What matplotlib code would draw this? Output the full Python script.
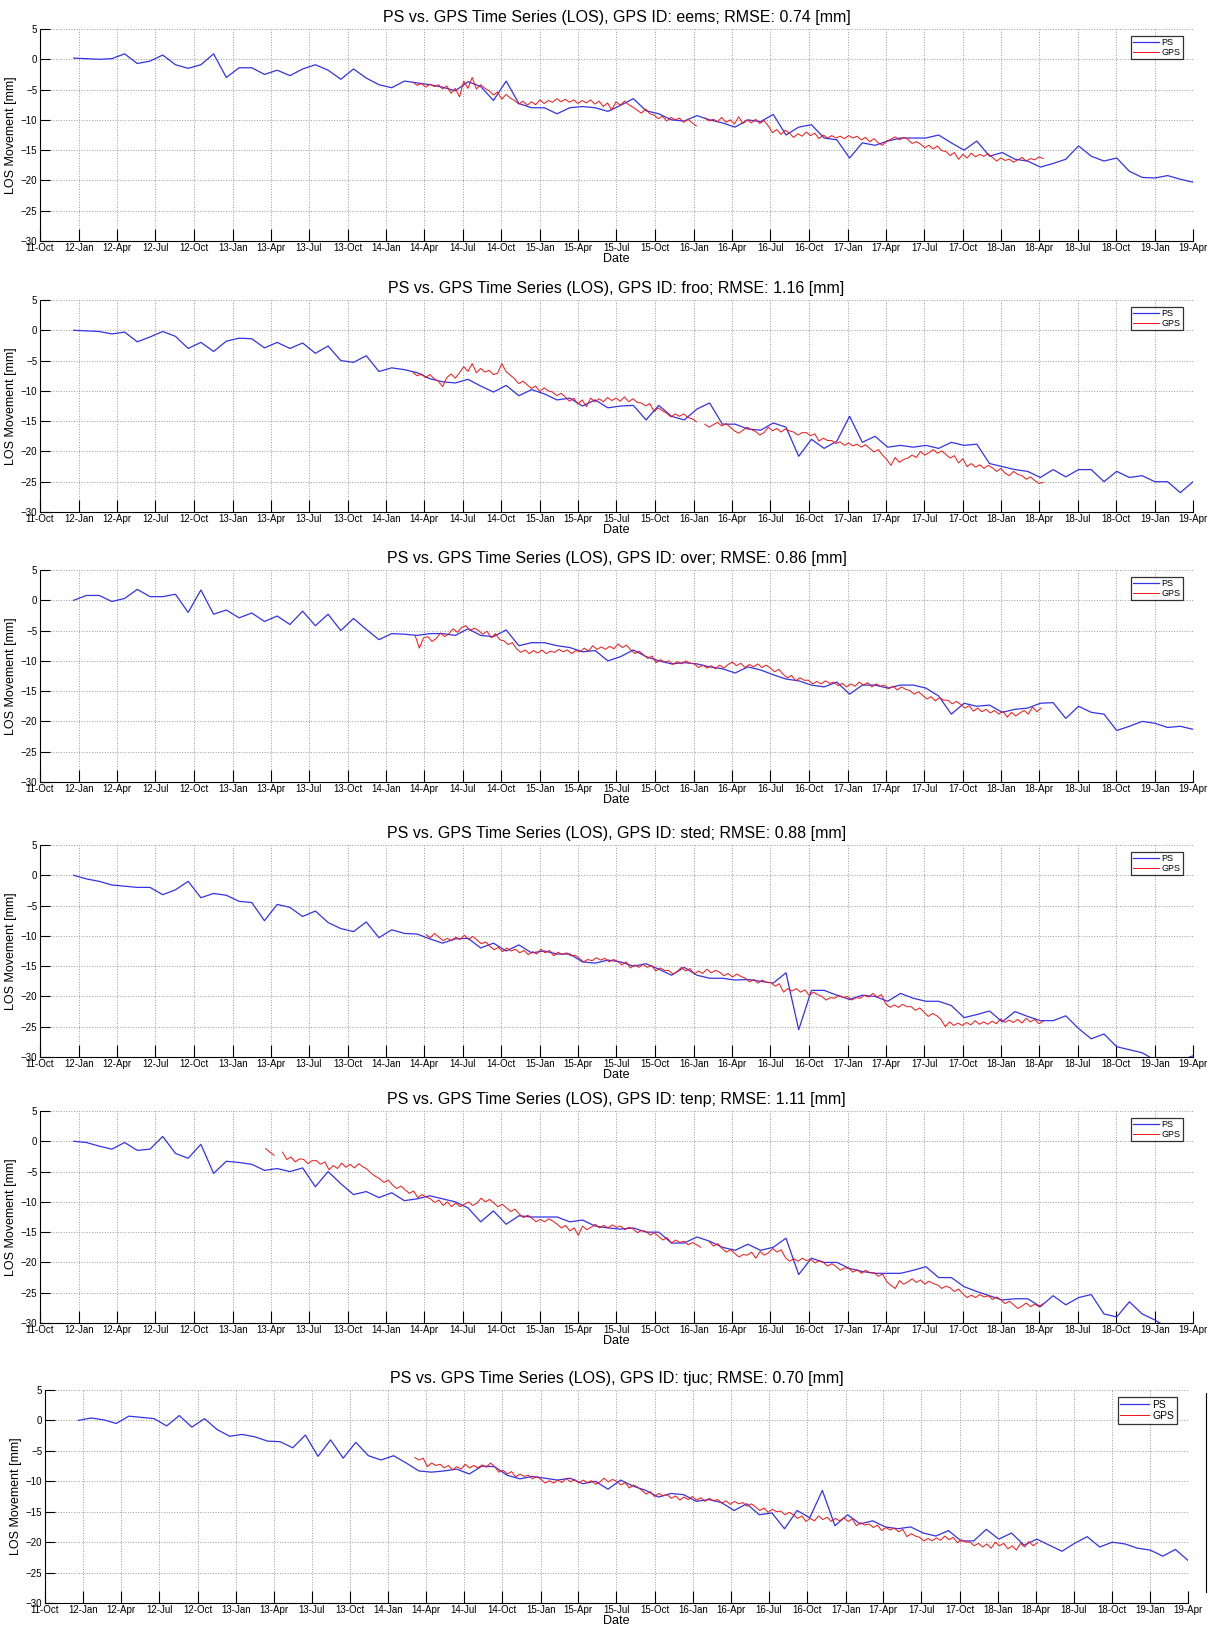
import numpy as np
import pandas as pd
import matplotlib
matplotlib.use('Agg')
import matplotlib.pyplot as plt
import matplotlib.dates as mdates
from matplotlib.lines import Line2D

plt.rcParams['font.family'] = ['Liberation Sans', 'DejaVu Sans']

nan = np.nan

# station ids and rmse from the titles
stations = ['eems', 'froo', 'over', 'sted', 'tenp', 'tjuc']
rmse = [0.74, 1.16, 0.86, 0.88, 1.11, 0.70]

# PS series: one value per month, Dec 2011 .. Apr 2019
ps_start, ps_end = '2011-12-20', '2019-04-01'

ps_eems = [0.2,
    0.1, 0.0, 0.1, 0.9, -0.7, -0.3, 0.7, -0.9, -1.5, -0.9, 0.9, -3.0,
    -1.4, -1.4, -2.5, -1.8, -2.7, -1.6, -0.9, -1.8, -3.3, -1.6, -3.1, -4.2,
    -4.7, -3.6, -3.9, -4.2, -4.6, -5.2, -3.7, -4.5, -6.8, -3.6, -7.3, -8.0,
    -8.0, -9.0, -8.0, -7.8, -8.0, -8.6, -7.6, -6.5, -8.5, -9.0, -10.0, -10.2,
    -9.3, -10.0, -10.5, -11.2, -10.0, -10.3, -9.1, -12.5, -11.2, -10.8, -13.0, -13.3,
    -16.3, -13.8, -14.2, -13.5, -13.0, -13.0, -13.0, -12.5, -13.8, -15.0, -13.5, -16.0,
    -15.4, -16.5, -16.8, -17.8, -17.2, -16.5, -14.3, -16.0, -16.8, -16.3, -18.5, -19.5,
    -19.6, -19.2, -19.8, -20.3]

ps_froo = [0.0,
    -0.1, -0.2, -0.6, -0.3, -1.9, -1.1, -0.2, -1.0, -3.0, -2.0, -3.5, -1.8,
    -1.3, -1.4, -2.9, -2.0, -3.0, -2.1, -3.8, -2.6, -5.0, -5.3, -4.2, -6.8,
    -6.2, -6.5, -7.0, -8.0, -8.5, -8.7, -8.1, -9.2, -10.2, -9.1, -10.8, -9.8,
    -10.5, -11.5, -11.2, -12.5, -11.5, -12.8, -12.5, -12.4, -14.8, -12.4, -14.2, -14.8,
    -13.0, -12.0, -15.5, -15.5, -16.3, -16.5, -15.3, -16.0, -20.8, -18.0, -19.5, -18.3,
    -14.2, -18.5, -17.5, -19.3, -19.0, -19.3, -19.0, -19.5, -18.5, -19.0, -18.8, -22.0,
    -22.5, -23.0, -23.3, -24.3, -23.0, -24.2, -23.0, -23.0, -25.0, -23.3, -24.3, -24.0,
    -25.0, -25.0, -26.8, -25.0]

ps_over = [0.0,
    0.8, 0.8, -0.2, 0.3, 1.8, 0.6, 0.6, 1.0, -2.0, 1.7, -2.3, -1.6,
    -2.9, -2.1, -3.5, -2.6, -4.0, -1.8, -4.2, -2.3, -5.0, -3.0, -4.8, -6.5,
    -5.5, -5.6, -5.8, -5.5, -5.5, -5.8, -4.7, -5.8, -6.0, -4.9, -7.5, -7.0,
    -7.0, -7.5, -7.8, -8.5, -8.3, -10.0, -9.3, -8.2, -9.3, -10.0, -10.5, -10.3,
    -10.5, -11.0, -11.3, -12.0, -11.0, -11.5, -12.3, -13.0, -13.3, -14.0, -14.3, -13.5,
    -15.5, -14.0, -14.0, -14.5, -14.0, -14.0, -14.5, -15.8, -18.8, -17.0, -17.5, -17.3,
    -18.5, -18.0, -17.8, -17.0, -16.9, -19.5, -17.5, -18.5, -18.8, -21.5, -20.8, -20.0,
    -20.3, -21.0, -20.8, -21.3]

ps_sted = [0.0,
    -0.6, -1.0, -1.6, -1.8, -2.0, -2.0, -3.2, -2.4, -1.0, -3.7, -3.0, -3.3,
    -4.3, -4.5, -7.5, -4.8, -5.3, -6.8, -5.9, -7.8, -8.8, -9.3, -7.7, -10.3,
    -9.0, -9.6, -9.7, -10.5, -11.2, -10.5, -10.4, -12.0, -11.2, -12.5, -11.5, -12.8,
    -12.5, -13.0, -13.0, -14.3, -14.5, -14.0, -14.3, -15.0, -14.6, -15.5, -16.5, -15.2,
    -16.5, -17.0, -17.0, -17.3, -17.2, -17.5, -17.8, -16.1, -25.5, -19.0, -19.0, -19.8,
    -20.5, -19.8, -20.0, -20.8, -19.5, -20.3, -20.8, -20.8, -21.5, -23.5, -23.0, -22.4,
    -24.2, -22.5, -23.3, -24.0, -24.0, -23.2, -25.3, -27.0, -26.2, -28.3, -28.8, -29.3,
    -30.5, -31.0, -30.6, -29.8]

ps_tenp = [0.0,
    -0.2, -0.8, -1.3, -0.2, -1.5, -1.3, 0.8, -2.0, -2.8, -0.5, -5.3, -3.3,
    -3.5, -3.8, -4.8, -4.5, -5.0, -4.4, -7.5, -5.0, -7.0, -8.8, -8.3, -9.3,
    -8.5, -9.8, -9.5, -9.0, -9.5, -10.0, -11.0, -13.3, -11.5, -13.7, -12.3, -12.5,
    -12.5, -12.5, -13.3, -13.0, -14.0, -14.3, -14.5, -14.3, -15.0, -15.0, -16.8, -16.8,
    -15.8, -16.5, -17.5, -18.0, -17.0, -18.0, -17.5, -16.0, -22.0, -19.3, -20.0, -20.0,
    -21.0, -21.5, -21.8, -21.8, -21.8, -21.3, -20.7, -22.5, -22.5, -24.0, -24.8, -25.5,
    -26.2, -26.0, -26.0, -27.3, -25.5, -27.0, -25.8, -25.3, -28.5, -29.0, -26.5, -28.5,
    -29.5, -30.8, -31.5, -32.0]

ps_tjuc = [0.0,
    0.4, 0.1, -0.5, 0.7, 0.5, 0.3, -0.9, 0.8, -1.1, 0.3, -1.5, -2.6,
    -2.3, -2.7, -3.4, -3.5, -4.5, -2.4, -5.9, -3.2, -6.2, -3.6, -5.8, -6.5,
    -5.8, -7.0, -8.3, -8.5, -8.3, -8.0, -8.8, -7.5, -7.6, -9.0, -9.6, -9.2,
    -9.5, -9.8, -9.5, -10.4, -10.0, -11.3, -9.8, -10.8, -11.5, -12.6, -12.0, -12.2,
    -13.3, -13.0, -13.5, -14.8, -13.7, -15.5, -15.2, -17.8, -14.8, -16.0, -11.5, -17.3,
    -15.5, -17.0, -16.5, -17.5, -17.8, -17.5, -18.5, -19.0, -18.1, -19.8, -19.8, -17.9,
    -19.5, -18.5, -20.5, -19.5, -20.5, -21.5, -20.2, -19.1, -20.8, -20.0, -20.3, -21.0,
    -21.3, -22.3, -21.2, -23.0]

# GPS series: three values per month
gps_eems_start, gps_eems_end = '2014-03-05', '2018-04-10'
gps_eems = [
    -3.8, -4.3, -4.0, -4.6, -4.1, -4.5, -4.2, -4.9, -4.4, -5.6, -4.8, -6.2,
    -3.6, -4.8, -3.0, -4.9, -4.2, -4.8, -5.2, -5.9, -5.4, -6.6, -5.8, -6.4,
    -6.8, -7.4, -6.9, -7.6, -7.0, -7.5, -6.7, -7.3, -6.8, -7.1, -6.5, -7.0,
    -6.6, -7.1, -6.7, -7.3, -6.8, -7.2, -6.7, -7.4, -6.9, -7.8, -7.2, -8.4,
    -7.0, -7.6, -6.9, -7.5, -7.9, -8.4, -8.9, -8.2, -9.0, -9.2, -9.8, -9.4,
    -10.2, -9.6, -10.0, -9.7, -10.4, -9.9, -10.5, -11.0, nan, -9.7, -10.2, -9.9,
    -10.3, -9.6, -10.4, -10.0, -10.7, -9.5, -10.6, -10.0, -10.5, -9.9, -10.6, -10.1,
    -11.0, -12.1, -11.6, -12.4, -11.7, -12.2, -12.9, -12.3, -12.7, -12.0, -12.6, -12.2,
    -13.1, -12.5, -13.0, -12.6, -13.0, -12.7, -13.1, -12.6, -13.0, -12.7, -13.3, -12.9,
    -13.6, -13.1, -13.8, -14.2, -13.5, -13.2, -12.8, -13.3, -12.9, -13.2, -13.9, -13.6,
    -14.0, -14.6, -14.2, -14.8, -14.3, -15.1, -15.2, -15.9, -15.4, -16.5, -15.7, -16.3,
    -15.5, -16.1, -15.7, -16.0, -15.6, -16.2, -16.8, -16.3, -16.7, -16.5, -17.0, -16.6,
    -16.2, -16.8, -16.4, -16.6, -16.1, -16.4]

gps_froo_start, gps_froo_end = '2014-03-05', '2018-04-10'
gps_froo = [
    -7.0, -7.5, -7.2, -7.8, -7.3, -8.0, -8.4, -9.3, -7.8, -7.2, -7.9, -7.0,
    -6.0, -6.8, -5.5, -7.0, -6.3, -6.9, -6.6, -7.3, -7.1, -5.5, -6.8, -7.4,
    -8.0, -8.8, -8.4, -9.0, -9.6, -9.2, -10.1, -9.5, -10.0, -10.2, -10.8, -10.4,
    -11.0, -11.7, -11.2, -12.2, -11.5, -12.6, -11.2, -11.8, -11.3, -11.8, -11.1, -11.6,
    -11.2, -11.7, -11.0, -11.8, -11.3, -11.9, -12.0, -12.5, -12.1, -13.4, -12.8, -13.3,
    -13.7, -14.3, -13.8, -14.2, -13.8, -14.4, -14.6, -15.1, nan, -15.5, -16.0, -15.6,
    -15.2, -15.8, -15.4, -16.0, -16.6, -17.0, -16.5, -16.0, -16.4, -16.7, -17.3, -16.9,
    -16.0, -16.6, -16.2, -16.8, -16.3, -16.6, -16.8, -17.3, -16.9, -16.9, -17.4, -17.1,
    -18.3, -17.8, -18.2, -18.2, -18.7, -18.4, -19.0, -18.6, -19.1, -18.8, -19.3, -18.9,
    -19.5, -20.1, -19.7, -20.6, -21.3, -22.3, -21.0, -21.8, -21.3, -21.1, -20.6, -21.0,
    -20.0, -20.6, -20.2, -19.7, -20.3, -19.9, -20.5, -21.1, -20.7, -21.9, -21.2, -22.5,
    -22.0, -22.6, -22.2, -22.8, -22.3, -22.7, -23.3, -22.8, -23.6, -24.0, -23.3, -23.8,
    -24.0, -24.6, -24.2, -24.8, -25.3, -25.1]

gps_over_start, gps_over_end = '2014-03-10', '2018-04-05'
gps_over = [
    -5.8, -7.9, -6.2, -6.0, -6.8, -6.3, -5.4, -6.0, -5.5, -4.7, -5.3, -4.5,
    -4.2, -5.0, -4.6, -5.0, -5.6, -5.1, -6.2, -5.5, -6.5, -6.7, -7.3, -7.0,
    -8.0, -8.6, -8.2, -8.8, -8.3, -8.7, -8.2, -8.8, -8.4, -8.6, -8.1, -8.5,
    -8.2, -8.8, -8.3, -8.5, -7.9, -8.4, -7.5, -8.1, -7.7, -8.1, -7.6, -8.0,
    -7.2, -7.8, -7.4, -8.2, -8.8, -8.4, -9.0, -9.6, -9.2, -10.3, -9.8, -10.2,
    -10.0, -10.6, -10.1, -10.5, -10.0, -10.4, -10.5, -11.1, -10.7, -11.2, -10.8, -11.3,
    -10.7, -11.2, -10.6, -10.2, -10.8, -10.4, -11.1, -10.6, -11.0, -10.5, -11.1, -10.7,
    -11.2, -11.8, -11.4, -12.2, -12.8, -12.4, -13.3, -12.8, -13.2, -13.2, -13.8, -13.4,
    -13.8, -13.3, -13.7, -13.5, -14.1, -13.7, -14.3, -13.8, -14.2, -13.5, -14.0, -13.6,
    -14.3, -13.8, -14.2, -14.0, -14.6, -14.2, -14.8, -14.3, -14.7, -14.9, -15.5, -15.1,
    -15.7, -16.3, -15.9, -16.6, -16.1, -16.5, -16.5, -17.1, -16.7, -17.2, -17.8, -17.4,
    -18.3, -17.8, -18.4, -18.0, -18.6, -18.2, -18.8, -18.3, -19.3, -18.5, -19.1, -18.6,
    -18.2, -18.8, -17.6, -18.4, -17.8]

gps_sted_start, gps_sted_end = '2014-04-05', '2018-04-10'
gps_sted = [
    -9.8, -10.3, -9.6, -10.2, -10.8, -10.4, -10.8, -10.2, -10.6, -9.9, -10.6, -10.1,
    -10.7, -11.3, -11.0, -11.7, -12.3, -11.9, -12.6, -12.0, -12.5, -12.2, -12.8, -12.4,
    -13.1, -12.6, -13.0, -12.2, -12.8, -12.4, -13.3, -12.7, -13.1, -12.8, -13.3, -13.2,
    -13.7, -14.3, -13.9, -14.1, -13.6, -14.0, -13.7, -14.3, -13.9, -14.2, -14.8, -14.3,
    -15.3, -14.8, -15.2, -14.7, -15.2, -14.9, -15.8, -15.3, -15.7, -15.7, -16.3, -15.9,
    -15.2, -15.8, -15.4, -16.3, -15.8, -16.2, -15.5, -16.1, -15.7, -16.0, -16.6, -16.2,
    -16.8, -16.3, -16.7, -17.0, -17.6, -17.2, -17.8, -17.3, -17.7, -17.7, -18.3, -17.9,
    -19.3, -18.7, -19.1, -18.7, -19.3, -18.9, -19.8, -19.3, -19.7, -20.0, -20.6, -20.2,
    -20.3, -19.8, -20.2, -20.0, -20.6, -20.2, -20.3, -19.8, -20.1, -19.5, -20.1, -19.7,
    -21.2, -21.8, -21.4, -21.8, -21.3, -21.7, -21.7, -22.3, -21.9, -22.6, -23.3, -22.8,
    -23.2, -23.8, -25.0, -24.2, -24.8, -24.4, -24.8, -24.3, -24.7, -24.0, -24.6, -24.2,
    -24.6, -24.1, -24.5, -23.7, -24.3, -23.9, -24.3, -23.8, -24.4, -23.6, -24.2, -23.8,
    -24.5, -24.1]

gps_tenp_start, gps_tenp_end = '2013-03-20', '2018-04-10'
gps_tenp = [
    -1.2, -1.8, -2.3, nan, -1.8, -3.0, -2.6, -3.4, -2.9, -3.0, -3.7, -3.2,
    -3.2, -3.8, -3.4, -4.7, -4.0, -4.5, -3.6, -4.3, -3.8, -4.4, -3.7, -4.2,
    -4.6, -5.3, -5.8, -6.2, -6.8, -6.4, -7.2, -7.8, -7.4, -8.0, -8.6, -8.2,
    -9.3, -8.8, -9.2, -9.5, -10.1, -9.7, -10.6, -10.0, -10.8, -10.2, -10.8, -10.4,
    -10.0, -10.6, -10.2, -9.4, -10.0, -9.6, -10.2, -10.8, -10.4, -11.0, -11.6, -11.2,
    -12.0, -12.6, -12.2, -12.7, -13.3, -12.9, -13.3, -12.8, -13.2, -13.7, -14.3, -13.9,
    -14.8, -14.3, -15.5, -14.0, -14.6, -14.2, -13.7, -14.3, -13.9, -14.3, -13.8, -14.2,
    -14.0, -14.6, -14.2, -14.5, -15.1, -14.7, -14.9, -15.5, -15.1, -15.7, -16.3, -15.9,
    -16.8, -16.3, -16.7, -16.5, -17.1, -16.7, -17.1, -17.5, nan, -16.6, -17.3, -16.9,
    -17.7, -18.3, -17.9, -18.5, -19.1, -18.7, -18.8, -18.3, -19.3, -18.2, -18.8, -18.4,
    -17.7, -18.3, -17.9, -19.2, -19.8, -19.4, -19.8, -19.3, -19.7, -19.5, -20.1, -19.7,
    -20.0, -20.6, -20.2, -20.7, -21.3, -20.9, -21.0, -21.6, -21.2, -21.8, -21.3, -21.7,
    -21.7, -22.3, -21.9, -23.2, -23.8, -24.3, -23.0, -23.6, -23.2, -22.7, -23.3, -22.9,
    -23.6, -23.1, -23.5, -23.7, -24.3, -23.9, -24.2, -24.8, -24.4, -25.2, -25.8, -25.4,
    -25.8, -25.3, -25.7, -25.5, -26.1, -25.7, -26.2, -26.8, -26.4, -27.0, -27.6, -27.2,
    -26.7, -27.3, -26.9, -27.3, -26.8]

gps_tjuc_start, gps_tjuc_end = '2014-03-05', '2018-04-05'
gps_tjuc = [
    -6.1, -6.5, -6.2, -7.6, -7.0, -7.4, -7.2, -7.8, -7.4, -8.1, -7.6, -8.0,
    -7.2, -7.8, -7.4, -7.8, -7.3, -7.7, -7.0, -7.6, -8.5, -8.2, -8.8, -8.4,
    -9.3, -8.8, -9.2, -9.0, -9.6, -9.2, -9.7, -10.3, -9.9, -10.3, -9.8, -10.2,
    -9.5, -10.1, -9.7, -10.3, -9.8, -10.2, -9.9, -10.5, -10.1, -9.5, -10.1, -9.7,
    -10.0, -10.6, -10.2, -11.1, -10.6, -11.0, -11.5, -12.1, -11.7, -12.5, -12.0, -12.4,
    -12.2, -12.8, -12.4, -13.1, -12.6, -13.0, -12.5, -13.1, -12.7, -13.3, -12.8, -13.2,
    -13.0, -13.6, -13.2, -13.8, -13.3, -13.7, -13.5, -14.1, -13.7, -14.2, -14.8, -14.4,
    -15.1, -14.6, -15.0, -14.9, -15.5, -15.1, -15.5, -16.1, -15.7, -16.6, -16.1, -16.5,
    -15.7, -16.3, -15.9, -16.6, -16.1, -16.5, -16.0, -16.6, -16.2, -17.3, -16.8, -17.2,
    -17.0, -17.6, -17.2, -18.1, -17.6, -18.0, -17.7, -18.3, -17.9, -19.1, -18.6, -19.0,
    -19.2, -19.8, -19.4, -19.8, -19.3, -19.7, -19.0, -19.6, -19.2, -20.1, -19.6, -20.0,
    -20.0, -20.6, -20.2, -20.8, -20.3, -21.0, -20.0, -20.6, -20.2, -21.1, -20.6, -21.3,
    -20.2, -20.8, -19.9, -20.6, -20.1]

ps_all = [ps_eems, ps_froo, ps_over, ps_sted, ps_tenp, ps_tjuc]
gps_all = [
    (gps_eems, gps_eems_start, gps_eems_end),
    (gps_froo, gps_froo_start, gps_froo_end),
    (gps_over, gps_over_start, gps_over_end),
    (gps_sted, gps_sted_start, gps_sted_end),
    (gps_tenp, gps_tenp_start, gps_tenp_end),
    (gps_tjuc, gps_tjuc_start, gps_tjuc_end),
]

W, H = 1217, 1629
fig = plt.figure(figsize=(W / 100, H / 100), dpi=100)

# axes boxes in pixels: left, top, right, height
boxes = [
    (40, 29, 1193, 212),
    (40, 300, 1193, 212),
    (40, 570, 1193, 212),
    (40, 845, 1193, 212),
    (40, 1111, 1193, 212),
    (45, 1390, 1188, 213),
]

ticks = pd.date_range('2011-10-01', '2019-04-01', freq='QS-OCT')
blue = (0.2, 0.2, 0.92)
red = (0.95, 0.08, 0.08)

for i, st in enumerate(stations):
    l, t, r, h = boxes[i]
    ax = fig.add_axes([l / W, 1 - (t + h) / H, (r - l) / W, h / H])

    ps = ps_all[i]
    ps_dates = pd.date_range(ps_start, ps_end, periods=len(ps))
    g, g0, g1 = gps_all[i]
    g_dates = pd.date_range(g0, g1, periods=len(g))

    ax.plot(ps_dates, ps, color=blue, lw=0.9, label='PS')
    ax.plot(g_dates, g, color=red, lw=0.7, label='GPS')

    ax.set_xlim(ticks[0], ticks[-1])
    ax.set_ylim(-30, 5)
    ax.set_yticks(np.arange(-30, 6, 5))
    ax.set_xticks(ticks)
    ax.xaxis.set_major_formatter(mdates.DateFormatter('%y-%b'))
    ax.tick_params(axis='x', direction='in', length=9, width=0.8, labelsize=7, pad=1.5)
    ax.tick_params(axis='y', direction='in', length=7, width=0.8, labelsize=7, pad=2)
    ax.grid(True, linestyle=':', color='0.6', linewidth=0.7)
    for side in ['top', 'right']:
        ax.spines[side].set_visible(False)
    ax.spines['left'].set_linewidth(0.8)
    ax.spines['bottom'].set_linewidth(0.8)

    ax.set_title('PS vs. GPS Time Series (LOS), GPS ID: %s; RMSE: %.2f [mm]' % (st, rmse[i]),
                 fontsize=11.5, pad=5)
    ax.set_xlabel('Date', fontsize=9, labelpad=0)
    ax.set_ylabel('LOS Movement [mm]', fontsize=9, labelpad=3)

    fs = 7.5 if i == 5 else 6.5
    leg = ax.legend(loc='upper right', fontsize=fs, frameon=True, fancybox=False,
                    edgecolor='black', handlelength=2.8, borderpad=0.25,
                    labelspacing=0.1, handletextpad=0.3,
                    bbox_to_anchor=(0.995, 0.99))
    leg.get_frame().set_linewidth(0.9)

# thin vertical line at the right edge next to the last panel
fig.add_artist(Line2D([1206 / W, 1206 / W], [1 - 1393 / H, 1 - 1592 / H],
                      color='black', lw=0.8))

fig.savefig('out.png', dpi=100)
